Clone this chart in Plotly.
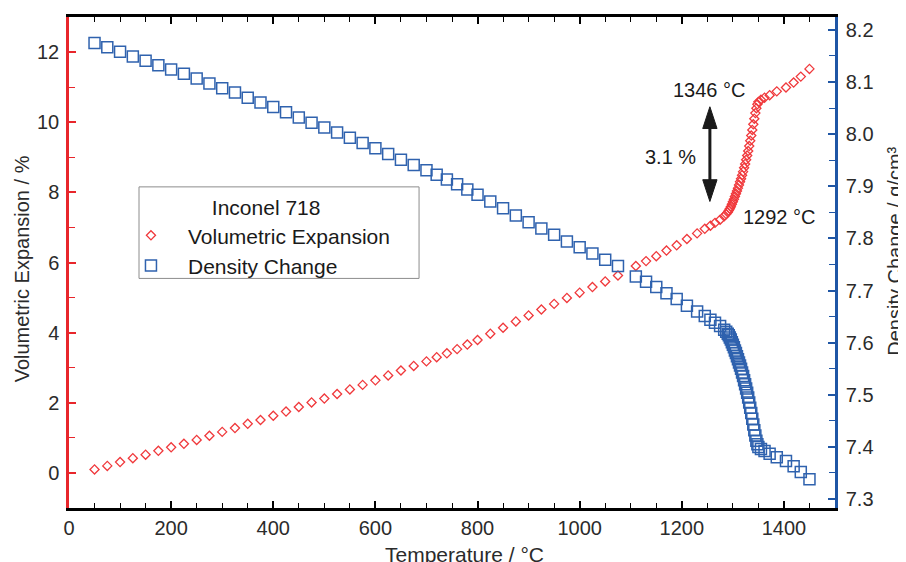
import plotly.graph_objects as go

# ---- data ----
temperature = [50, 75, 100, 125, 150, 175, 200, 225, 250, 275, 300, 325, 350, 375, 400, 425, 450, 475, 500,
               525, 550, 575, 600, 625, 650, 675, 700, 720, 740, 760, 780, 800, 825, 850, 875, 900, 925, 950,
               975, 1000, 1025, 1050, 1075, 1110, 1130, 1150, 1170, 1190, 1210, 1230, 1245, 1256, 1265, 1275,
               1283, 1287, 1290, 1292, 1294, 1296, 1298, 1300, 1302, 1304, 1306, 1308, 1310, 1312, 1314, 1316,
               1318, 1320, 1322, 1324, 1326, 1328, 1330, 1332, 1334, 1336, 1338, 1340, 1342, 1344, 1346, 1348,
               1350, 1355, 1362, 1372, 1386, 1404, 1419, 1433, 1450]

vol_expansion = [0.10, 0.20, 0.31, 0.42, 0.52, 0.63, 0.73, 0.83, 0.94, 1.06,
                 1.17, 1.28, 1.40, 1.51, 1.63, 1.75, 1.88, 2.01, 2.12, 2.25,
                 2.38, 2.51, 2.64, 2.78, 2.92, 3.05, 3.18,
                 3.30, 3.41, 3.53, 3.66,
                 3.79, 3.97, 4.14, 4.32, 4.49, 4.66, 4.82, 4.99, 5.14, 5.30, 5.46, 5.63,
                 5.90, 6.04, 6.18, 6.34, 6.49, 6.67, 6.83,
                 6.96, 7.05, 7.13, 7.22, 7.32, 7.38, 7.43,
                 7.48, 7.53, 7.59, 7.66, 7.73, 7.80, 7.88, 7.96, 8.04, 8.12,
                 8.21, 8.30, 8.39, 8.49, 8.59, 8.70, 8.81, 8.93, 9.05, 9.18,
                 9.32, 9.47, 9.62, 9.78, 9.94, 10.10, 10.26, 10.40, 10.51, 10.58,
                 10.64, 10.70, 10.77, 10.88, 10.99, 11.13, 11.30, 11.52]

density = [8.175, 8.167, 8.158, 8.149, 8.141, 8.132, 8.124, 8.116, 8.107, 8.097,
           8.088, 8.080, 8.070, 8.061, 8.052, 8.042, 8.032, 8.022, 8.013, 8.003,
           7.993, 7.983, 7.973, 7.962, 7.951, 7.941, 7.931,
           7.922, 7.913, 7.904, 7.894,
           7.884, 7.871, 7.858, 7.844, 7.831, 7.819, 7.807, 7.794, 7.783, 7.771, 7.759, 7.747,
           7.727, 7.717, 7.707, 7.695, 7.684, 7.671, 7.660,
           7.651, 7.644, 7.638, 7.632, 7.625, 7.621, 7.617,
           7.614, 7.610, 7.606, 7.601, 7.596, 7.591, 7.585, 7.580, 7.574, 7.568,
           7.562, 7.556, 7.550, 7.543, 7.536, 7.528, 7.520, 7.512, 7.504, 7.495,
           7.485, 7.475, 7.465, 7.454, 7.443, 7.432, 7.422, 7.412, 7.405, 7.400,
           7.396, 7.392, 7.387, 7.380, 7.373, 7.363, 7.352, 7.338]

x_ticks = [0, 200, 400, 600, 800, 1000, 1200, 1400]

FONT = "Liberation Sans, Arial, Helvetica, sans-serif"
TXT = "#2b2b2b"
RED = "#f0393c"
BLUE = "#2f62ae"

fig = go.Figure()
fig.add_trace(go.Scatter(
    x=temperature, y=vol_expansion, mode="markers", name="Volumetric Expansion",
    marker=dict(symbol="diamond-open", size=7, color=RED, line=dict(width=1.3, color=RED)),
    yaxis="y"))
fig.add_trace(go.Scatter(
    x=temperature, y=density, mode="markers", name="Density Change",
    marker=dict(symbol="square-open", size=11, color=BLUE, line=dict(width=1.5, color=BLUE)),
    yaxis="y2"))

fig.update_layout(
    width=906, height=562,
    margin=dict(l=61, r=79, t=6, b=62),
    paper_bgcolor="white", plot_bgcolor="white",
    font=dict(family=FONT, size=20, color=TXT),
    showlegend=True,
    legend=dict(
        x=0.0587, y=0.652, xanchor="left", yanchor="top",
        borderwidth=0, bgcolor="rgba(0,0,0,0)",
        font=dict(size=21, color="#1a1a1a"),
        title=dict(text="&nbsp;&nbsp;&nbsp;&nbsp;Inconel 718", side="top center",
                   font=dict(size=21, color="#1a1a1a")),
        tracegroupgap=0, itemsizing="trace", itemwidth=64,
    ),
    xaxis=dict(
        range=[0, 1500], tickvals=x_ticks, ticks="inside", ticklen=7, tickwidth=1.5, tickcolor="black",
        showline=True, linecolor="black", linewidth=2.5, mirror="ticks",
        showgrid=False, zeroline=False, tickfont=dict(size=20, color=TXT),
        minor=dict(dtick=50, tick0=0, ticks="inside", ticklen=5, tickwidth=1.2, tickcolor="black", showgrid=False),
    ),
    yaxis=dict(
        range=[-1, 13], tick0=0, dtick=2, ticks="inside", ticklen=7, tickwidth=1.5, tickcolor="#e8262b",
        showline=True, linecolor="#e8262b", linewidth=2.5,
        showgrid=False, zeroline=False, tickfont=dict(size=20, color=TXT), ticklabelstandoff=3,
        minor=dict(dtick=1, tick0=0, ticks="inside", ticklen=6, tickwidth=1.2, tickcolor="#e8262b", showgrid=False),
    ),
    yaxis2=dict(
        range=[7.2828, 8.2248], tick0=7.3, dtick=0.1, tickformat=".1f", overlaying="y", side="right",
        ticks="inside", ticklen=7, tickwidth=1.5, tickcolor="#1f56a5",
        showline=True, linecolor="#1f56a5", linewidth=2.5,
        showgrid=False, zeroline=False, tickfont=dict(size=20, color=TXT), ticklabelstandoff=4,
        minor=dict(dtick=0.05, tick0=7.3, ticks="inside", ticklen=6, tickwidth=1.2, tickcolor="#1f56a5", showgrid=False),
    ),
)

# legend frame
fig.add_shape(type="rect", xref="paper", yref="paper", x0=0.0914, x1=0.457, y0=0.4676, y1=0.654,
              line=dict(color="#8c8c8c", width=1), fillcolor="rgba(0,0,0,0)", layer="above")

# axis titles
fig.add_annotation(text="Temperature / °C", xref="paper", yref="paper", x=0.5157, y=-0.095,
                   xanchor="center", yanchor="middle", showarrow=False, font=dict(size=21, color=TXT))
fig.add_annotation(text="Volumetric Expansion / %", xref="paper", yref="paper", x=-0.0614, y=0.488,
                   xanchor="center", yanchor="middle", textangle=-90, showarrow=False,
                   font=dict(size=20, color=TXT))
fig.add_annotation(text="Density Change / g/cm³", xref="paper", yref="paper", x=1.0784, y=0.522,
                   xanchor="center", yanchor="middle", textangle=-90, showarrow=False,
                   font=dict(size=20, color=TXT))

# transition annotations
fig.add_annotation(text="1346 °C", x=1255, y=10.92, xref="x", yref="y", showarrow=False,
                   font=dict(size=20, color="#1a1a1a"))
fig.add_annotation(text="3.1 %", x=1177, y=9.02, xref="x", yref="y", showarrow=False,
                   font=dict(size=20, color="#1a1a1a"))
fig.add_annotation(text="1292 °C", x=1392, y=7.29, xref="x", yref="y", showarrow=False,
                   font=dict(size=20, color="#1a1a1a"))

# double-headed arrow
fig.add_shape(type="line", x0=1255, x1=1255, y0=8.3, y1=9.9, xref="x", yref="y",
              line=dict(color="#1a1a1a", width=3))
fig.add_shape(type="path", path="M 1241,9.82 L 1269,9.82 L 1255,10.44 Z", xref="x", yref="y",
              fillcolor="#1a1a1a", line=dict(color="#1a1a1a", width=1))
fig.add_shape(type="path", path="M 1241,8.36 L 1269,8.36 L 1255,7.74 Z", xref="x", yref="y",
              fillcolor="#1a1a1a", line=dict(color="#1a1a1a", width=1))

fig.write_html("out.html")
